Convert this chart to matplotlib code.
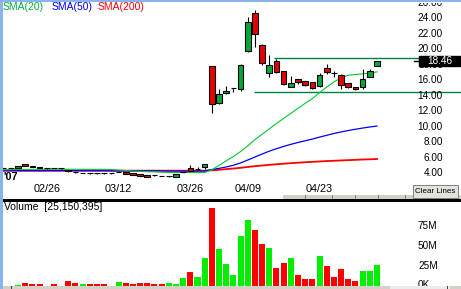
import matplotlib
matplotlib.use("Agg")
import matplotlib.pyplot as plt
from matplotlib.patches import Rectangle

plt.rcParams["font.family"] = ["Liberation Sans", "DejaVu Sans"]

# trading-day index, 0 = 02/20/2007
day = list(range(-2, 51))

opens = [4.62, 4.68, 4.68, 5.16, 4.84, 4.74, 4.68, 4.66, 4.60, 4.40,
         4.15, 4.04, 4.02, 3.98, 4.00, 3.96, 4.12, 4.17, 4.04, 3.87,
         3.74, 3.72, 3.66, 3.60, 3.52, 4.10, 4.60, 4.48, 4.74, 17.80,
         13.00, 14.28, 14.93, 14.80, 19.78, 24.70, 20.50, 16.86, 18.49, 17.12,
         15.14, 16.13, 15.83, 15.74, 15.23, 17.50, 16.90, 16.65, 15.57, 15.06,
         15.06, 16.35, 17.75]
highs = [4.62, 4.68, 4.94, 5.16, 4.86, 4.76, 4.68, 4.68, 4.60, 4.45,
         4.15, 4.04, 4.02, 3.98, 4.00, 3.96, 4.17, 4.17, 4.04, 3.87,
         3.74, 3.72, 3.66, 3.62, 3.87, 4.17, 5.03, 4.81, 5.20, 17.80,
         14.80, 15.20, 14.95, 18.06, 24.10, 25.00, 20.65, 19.20, 18.70, 17.12,
         16.50, 16.13, 15.85, 15.80, 16.86, 18.06, 17.20, 16.77, 15.60, 15.06,
         17.38, 17.38, 18.46]
lows = [4.62, 4.68, 4.68, 4.90, 4.76, 4.68, 4.56, 4.60, 4.50, 4.15,
        4.05, 3.95, 3.90, 3.88, 3.90, 3.88, 4.08, 3.87, 3.74, 3.61,
        3.45, 3.60, 3.55, 3.52, 3.50, 4.10, 4.30, 4.45, 4.52, 11.78,
        12.90, 14.20, 14.50, 14.60, 19.65, 20.20, 18.00, 16.43, 16.95, 15.40,
        15.05, 15.45, 15.20, 14.85, 15.06, 16.80, 16.43, 14.80, 14.95, 14.70,
        14.90, 16.35, 17.75]
closes = [4.62, 4.68, 4.94, 4.90, 4.78, 4.70, 4.68, 4.62, 4.60, 4.20,
          4.10, 4.04, 3.98, 3.95, 3.97, 3.96, 4.17, 3.87, 3.74, 3.61,
          3.45, 3.68, 3.64, 3.62, 3.87, 4.17, 4.30, 4.50, 5.16, 12.86,
          14.15, 14.58, 14.93, 17.94, 23.45, 22.00, 18.15, 17.94, 17.07, 15.53,
          15.61, 15.74, 15.32, 14.93, 16.65, 17.03, 16.85, 15.30, 15.06, 14.85,
          16.09, 17.16, 18.46]
volume_m = [0, 0, 1.25, 3.75, 1.6, 1.6, 0, 1.6, 0, 5.4,
            2.9, 1.7, 1.7, 1.7, 1.7, 0, 4.2, 2.9, 1.7, 2.9,
            2.9, 1.7, 1.7, 2.9, 1.7, 9.2, 16.7, 10.4, 34.0, 96.6,
            45.4, 26.6, 13.75, 62.5, 82.5, 70.0, 52.5, 47.5, 21.3, 28.75,
            35.0, 13.75, 8.75, 8.75, 37.5, 25.0, 11.25, 21.25, 8.75, 6.25,
            18.75, 18.75, 25.15]

sma20 = [4.42, 4.44, 4.45, 4.46, 4.47, 4.48, 4.48, 4.48, 4.48, 4.48,
         4.48, 4.48, 4.48, 4.48, 4.48, 4.44, 4.38, 4.32, 4.26, 4.21,
         4.17, 4.15, 4.10, 4.07, 4.06, 4.06, 4.06, 4.06, 4.06,
         4.41, 4.98, 5.57, 6.13, 6.77, 7.50, 8.30, 9.00, 9.70, 10.40,
         11.05, 11.70, 12.35, 13.00, 13.59, 14.37, 15.10, 15.75, 16.30, 16.62,
         16.71, 16.80, 16.89, 17.05]
sma50 = [4.30] * 15 + [4.27] * 8 + [4.25] * 6 + [
    4.45, 4.60, 4.78, 5.00, 5.30, 5.68, 6.06, 6.45, 6.82, 7.14,
    7.43, 7.70, 7.94, 8.16, 8.38, 8.63, 8.87, 9.10, 9.30, 9.48,
    9.65, 9.80, 9.94, 10.06]
sma200 = [4.30] * 29 + [
    4.35, 4.42, 4.50, 4.58, 4.67, 4.78, 4.88, 4.97, 5.05, 5.13,
    5.20, 5.27, 5.33, 5.39, 5.44, 5.49, 5.54, 5.58, 5.62, 5.66,
    5.70, 5.74, 5.77, 5.81]

date_ticks = [4, 14, 24, 32, 42]
date_labels = ["02/26", "03/12", "03/26", "04/09", "04/23"]
price_ticks = [4, 6, 8, 10, 12, 14, 16, 18, 20, 22, 24, 26]
vol_ticks = [0, 25, 50, 75]
vol_labels = ["0K", "25M", "50M", "75M"]

resistance = (35.6, 18.8)   # start day, price
support = (32.9, 14.41)
last_price = 18.46
last_volume = "25,150,395"

GREEN_C = "#00a83c"
RED_C = "#e60000"
XL = (-2.09, 61.7)

fig = plt.figure(figsize=(4.61, 2.89), dpi=100)
W, H = 461, 289


def frect(x0, y0, x1, y1, **kw):
    # rectangle in figure pixels (y from top)
    fig.patches.append(Rectangle((x0 / W, 1 - y1 / H), (x1 - x0) / W, (y1 - y0) / H,
                                 transform=fig.transFigure, **kw))


ax = fig.add_axes([3 / W, 1 - 199 / H, 458 / W, 196 / H])
axv = fig.add_axes([3 / W, 1 - 285.5 / H, 458 / W, 83.5 / H])
for a in (ax, axv):
    a.set_xlim(*XL)
    a.axis("off")
ax.set_ylim(0.645, 25.94)
axv.set_ylim(0, 104.4)

# moving averages
ax.plot(day, sma200, color="#ff0000", lw=1.3, zorder=2)
ax.plot(day, sma50, color="#0000ff", lw=0.9, zorder=2)
ax.plot(day, sma20, color="#00c832", lw=0.8, zorder=2)

# candles
body_col = []
for o, c in zip(opens, closes):
    body_col.append(GREEN_C if c >= o else RED_C)
ax.vlines(day, lows, highs, color="black", lw=0.8, zorder=3)
ax.bar(day, [abs(c - o) for o, c in zip(opens, closes)], width=0.78,
       bottom=[min(o, c) for o, c in zip(opens, closes)], color=body_col,
       edgecolor="black", linewidth=0.8, zorder=4)

# drawn trend lines
ax.hlines(resistance[1], resistance[0], XL[1], color="#008040", lw=1.0, zorder=1)
ax.hlines(support[1], support[0], XL[1], color="#008040", lw=1.0, zorder=1)

# price axis labels
ty = ax.get_yaxis_transform()
for p in price_ticks:
    ax.text(0.9607, p, f"{p:.2f}", transform=ty, ha="right", va="center",
            fontsize=7.2, clip_on=True, zorder=5)
ax.add_patch(Rectangle((0.908, last_price - 0.6), 0.09, 1.2, transform=ty,
                       color="black", zorder=6))
ax.plot([0.898, 0.908], [last_price, last_price], transform=ty, color="black", lw=1, zorder=6)
ax.text(0.953, last_price, f"{last_price:.2f}", transform=ty, ha="center", va="center",
        color="white", fontsize=7.2, zorder=7)

tx = ax.get_xaxis_transform()
for t, lab in zip(date_ticks, date_labels):
    ax.text(t, 0.051, lab, transform=tx, ha="center", va="center", fontsize=7.8)
ax.text(0.001, 0.112, "'07", transform=ax.transAxes, ha="left", va="center",
        fontsize=7.8, fontweight="bold")

ax.text(0.0, 0.98, "SMA(20)", transform=ax.transAxes, color="#00b040", fontsize=7.5,
        ha="left", va="center")
ax.text(0.105, 0.98, "SMA(50)", transform=ax.transAxes, color="#0000ff", fontsize=7.5,
        ha="left", va="center")
ax.text(0.2055, 0.98, "SMA(200)", transform=ax.transAxes, color="#ff0000", fontsize=7.5,
        ha="left", va="center")

# volume
vol_col = ["#00ee00" if c >= o else "#ff0000" for o, c in zip(opens, closes)]
axv.bar(day, volume_m, width=0.84, color=vol_col, zorder=2)
tyv = axv.get_yaxis_transform()
for v, lab in zip(vol_ticks, vol_labels):
    axv.text(0.906, v, lab, transform=tyv, ha="left", va="center", fontsize=7.2, clip_on=True)
axv.text(0.002, 0.94, f"Volume  [{last_volume}]", transform=axv.transAxes,
         ha="left", va="center", fontsize=7.5)

# window chrome
frect(0, 0, 2.5, H, color="#8cb4ec", lw=0)
frect(0, 0, W, 1.5, color="#8cb4ec", lw=0)
frect(283, 195, W, 199, color="#d4d0c8", lw=0)
for xm in [305, 332, 355, 378, 405, 430, 457]:
    frect(xm, 195, xm + 1, 199, color="#808080", lw=0)
frect(3, 199, W, 202, color="black", lw=0)
frect(413, 185, 458, 198, facecolor="#e4e2dc", edgecolor="#808080", lw=0.7)
fig.text(435.5 / W, 1 - 191.5 / H, "Clear Lines", ha="center", va="center", fontsize=5.8)
frect(3, 285.5, W, H, color="#d4d0c8", lw=0)
frect(390, 285.5, 450, H, color="#ececec", lw=0)
frect(11, 285.5, 12, H, color="#404040", lw=0)
frect(447, 285.5, 448, H, color="#404040", lw=0)

fig.savefig("out.png", dpi=100)
